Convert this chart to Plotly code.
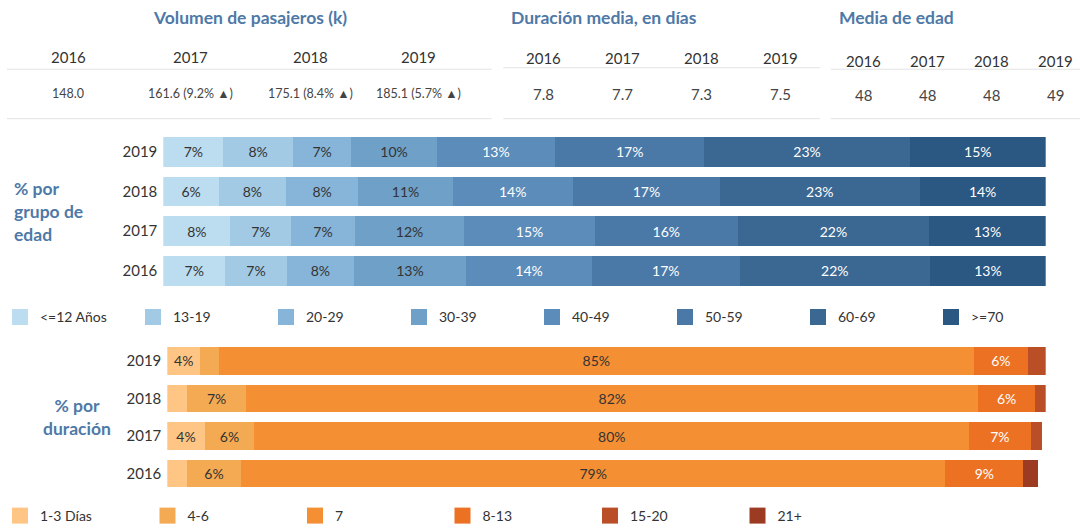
import plotly.graph_objects as go

# ---------------- data ----------------
years = ["2016", "2017", "2018", "2019"]

# header: passenger volume (k)
vol_values = ["148.0", "161.6 (9.2% ▲)", "175.1 (8.4% ▲)", "185.1 (5.7% ▲)"]
dur_mean = ["7.8", "7.7", "7.3", "7.5"]
age_mean = ["48", "48", "48", "49"]

# % by age group (per year 2016..2019)
age_groups = ["<=12 Años", "13-19", "20-29", "30-39", "40-49", "50-59", "60-69", ">=70"]
age_le12 = [7.0, 7.6, 6.3, 6.8]
age_13_19 = [7.0, 6.9, 7.6, 7.9]
age_20_29 = [7.6, 7.2, 8.2, 6.6]
age_30_39 = [12.7, 12.4, 10.7, 9.7]
age_40_49 = [14.3, 14.8, 13.6, 13.4]
age_50_59 = [16.7, 16.2, 16.7, 16.9]
age_60_69 = [21.6, 21.7, 22.6, 23.3]
age_ge70 = [13.1, 13.2, 14.3, 15.4]

# % by duration (per year 2016..2019)
dur_groups = ["1-3 Días", "4-6", "7", "8-13", "15-20", "21+"]
dur_1_3 = [2.2, 4.2, 2.2, 3.7]
dur_4_6 = [6.1, 5.6, 6.7, 2.1]
dur_7 = [79.2, 80.4, 82.3, 84.9]
dur_8_13 = [8.8, 6.9, 6.4, 6.1]
dur_15_20 = [0.0, 1.3, 1.2, 2.0]
dur_21p = [1.6, 0.0, 0.0, 0.0]

# ---------------- styling ----------------
W, H = 1080, 532
FONT = "Lato"
BLUE_T = "#4e79a7"
DARK = "#333333"

age_colors = ["#bcdcf0", "#a2cae5", "#87b5d9", "#6ea0c8", "#5b8cba", "#4a79a8", "#3b6892", "#2b5783"]
age_txt = [DARK, DARK, DARK, DARK, "white", "white", "white", "white"]
dur_colors = ["#fec584", "#f4aa52", "#f48f34", "#ec7122", "#ba4e26", "#9c3b22"]
dur_txt = [DARK, DARK, DARK, "white", "white", "white"]


def px(x):
    return x / W


def py(y):
    return 1 - y / H


def lbl(vals, thr):
    return [f"{v:.0f}%" if v >= thr else "" for v in vals]


fig = go.Figure()

age_series = [age_le12, age_13_19, age_20_29, age_30_39, age_40_49, age_50_59, age_60_69, age_ge70]
for name, vals, col, tc in zip(age_groups, age_series, age_colors, age_txt):
    fig.add_trace(go.Bar(
        y=years, x=vals, orientation="h", name=name, legendgroup=name, showlegend=False,
        marker=dict(color=col, line=dict(width=0)),
        text=lbl(vals, 3), textposition="inside", insidetextanchor="middle",
        textfont=dict(color=tc, size=14, family=FONT),
        xaxis="x", yaxis="y", hoverinfo="skip",
    ))
    # legend swatch (square key for the series above)
    fig.add_trace(go.Scatter(
        x=[None], y=[None], mode="markers", name=name, legendgroup=name,
        marker=dict(symbol="square", size=17, color=col, line=dict(width=0)),
        xaxis="x", yaxis="y", legend="legend", hoverinfo="skip",
    ))

dur_series = [dur_1_3, dur_4_6, dur_7, dur_8_13, dur_15_20, dur_21p]
for name, vals, col, tc in zip(dur_groups, dur_series, dur_colors, dur_txt):
    fig.add_trace(go.Bar(
        y=years, x=vals, orientation="h", name=name, legendgroup="d" + name, showlegend=False,
        marker=dict(color=col, line=dict(width=0)),
        text=lbl(vals, 3), textposition="inside", insidetextanchor="middle",
        textfont=dict(color=tc, size=14, family=FONT),
        xaxis="x2", yaxis="y2", hoverinfo="skip",
    ))
    fig.add_trace(go.Scatter(
        x=[None], y=[None], mode="markers", name=name, legendgroup="d" + name,
        marker=dict(symbol="square", size=17, color=col, line=dict(width=0)),
        xaxis="x2", yaxis="y2", legend="legend2", hoverinfo="skip",
    ))

yax = dict(type="category", categoryorder="array", categoryarray=years,
           range=[-0.5, 3.5],
           showgrid=False, zeroline=False, showline=False, ticks="",
           ticklabelstandoff=5,
           tickfont=dict(size=15, color=DARK, family=FONT), fixedrange=True)
xax = dict(showgrid=False, zeroline=False, showline=False, showticklabels=False, fixedrange=True)

fig.update_layout(
    width=W, height=H,
    margin=dict(l=0, r=0, t=0, b=0),
    paper_bgcolor="white", plot_bgcolor="white",
    barmode="stack", bargap=0.26,
    font=dict(family=FONT, color=DARK),
    xaxis=dict(xax, domain=[px(163.3), px(1045.7)], range=[0, 100], anchor="y"),
    yaxis=dict(yax, domain=[py(294), py(133.5)], anchor="x"),
    xaxis2=dict(xax, domain=[px(167.3), px(1045.7)], range=[0, 98.8], anchor="y2"),
    yaxis2=dict(yax, domain=[py(498), py(346)], anchor="x2"),
    legend=dict(orientation="h", x=px(0), y=py(321), xanchor="left", yanchor="middle",
                entrywidth=88, entrywidthmode="pixels", traceorder="normal",
                itemsizing="trace",
                font=dict(size=14, color=DARK, family=FONT), bgcolor="rgba(0,0,0,0)",
                itemclick=False, itemdoubleclick=False),
    legend2=dict(orientation="h", x=px(0), y=py(522), xanchor="left", yanchor="middle",
                 entrywidth=102.5, entrywidthmode="pixels", traceorder="normal",
                 itemsizing="trace",
                 font=dict(size=14, color=DARK, family=FONT), bgcolor="rgba(0,0,0,0)",
                 itemclick=False, itemdoubleclick=False),
    showlegend=True,
)

ann = []


def add_text(x, y, text, size, color=DARK, bold=False, xanchor="center", align="center"):
    ann.append(dict(x=px(x), y=py(y), xref="paper", yref="paper", text=(f"<b>{text}</b>" if bold else text),
                    showarrow=False, xanchor=xanchor, yanchor="middle", align=align,
                    font=dict(size=size, color=color, family=FONT)))


# titles
add_text(250, 18, "Volumen de pasajeros (k)", 17.5, BLUE_T, bold=True)
add_text(509, 18, "Duración media, en días", 17.5, BLUE_T, bold=True, xanchor="left")
add_text(837, 18, "Media de edad", 17.5, BLUE_T, bold=True, xanchor="left")

vol_x = [68, 190, 310, 418]
dur_x = [543, 622, 701, 780]
age_x = [863, 927, 991, 1055]
for i, yr in enumerate(years):
    add_text(vol_x[i], 58, yr, 15)
    add_text(vol_x[i], 95, vol_values[i], 12.5, "#444444")
    add_text(dur_x[i], 59, yr, 15)
    add_text(dur_x[i], 95, dur_mean[i], 15, "#444444")
    add_text(age_x[i], 61.5, yr, 15)
    add_text(age_x[i], 96.5, age_mean[i], 15, "#444444")

# section labels
add_text(12, 214, "% por<br>grupo de<br>edad", 17.5, BLUE_T, bold=True, xanchor="left", align="left")
add_text(77, 421.5, "% por<br>duración", 17.5, BLUE_T, bold=True, xanchor="center", align="center")

fig.update_layout(annotations=ann)

# header rule lines
LINE = "#e3e3e3"
shapes = []
for (x0, x1, ytop) in [(7, 491.7, 70), (503.3, 820, 68.5), (830.7, 1080, 70)]:
    shapes.append(dict(type="line", xref="paper", yref="paper", x0=px(x0), x1=px(x1),
                       y0=py(ytop), y1=py(ytop), line=dict(color=LINE, width=1)))
    shapes.append(dict(type="line", xref="paper", yref="paper", x0=px(x0), x1=px(x1),
                       y0=py(120), y1=py(120), line=dict(color=LINE, width=1)))
fig.update_layout(shapes=shapes)

fig.write_html("out.html", config={"displayModeBar": False, "staticPlot": True},
               post_script="document.body.style.margin='0';document.body.style.overflow='hidden';")
